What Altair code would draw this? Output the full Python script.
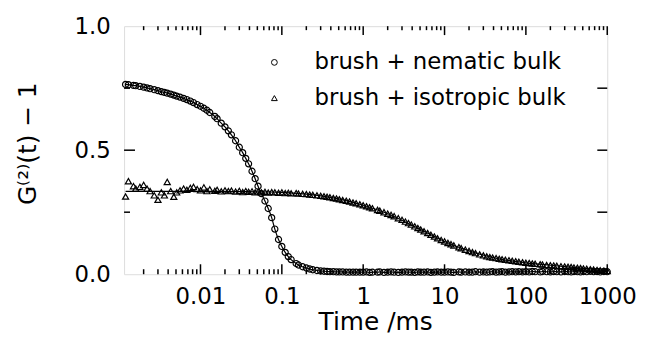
import altair as alt
import pandas as pd

# ---------------- data ----------------
time_ms = [
    0.0012, 0.0013, 0.0015, 0.0016, 0.0018, 0.0020, 0.0022, 0.0024, 0.0027, 0.0030, 0.0033,
    0.0036, 0.0039, 0.0043, 0.0047, 0.0051, 0.0056, 0.0062, 0.0068, 0.0075, 0.0082, 0.0091,
    0.010, 0.011, 0.012, 0.013, 0.015, 0.016, 0.018, 0.020, 0.022, 0.024, 0.027, 0.030,
    0.033, 0.036, 0.039, 0.043, 0.047, 0.051, 0.056, 0.062, 0.068, 0.075, 0.082, 0.091,
    0.10, 0.11, 0.12, 0.13, 0.15, 0.16, 0.18, 0.20, 0.22, 0.24, 0.27, 0.30,
    0.33, 0.36, 0.39, 0.43, 0.47, 0.51, 0.56, 0.62, 0.68, 0.75, 0.82, 0.91,
    1.0, 1.1, 1.2, 1.3, 1.5, 1.6, 1.8, 2.0, 2.2, 2.4, 2.7, 3.0,
    3.3, 3.6, 3.9, 4.3, 4.7, 5.1, 5.6, 6.2, 6.8, 7.5, 8.2, 9.1,
    10, 11, 12, 13, 15, 16, 18, 20, 22, 24, 27, 30,
    33, 36, 39, 43, 47, 51, 56, 62, 68, 75, 82, 91,
    100, 110, 120, 130, 150, 160, 180, 200, 220, 240, 270, 300,
    330, 360, 390, 430, 470, 510, 560, 620, 680, 750, 820, 910,
    1000,
]

nematic = [
    0.765, 0.764, 0.761, 0.760, 0.757, 0.754, 0.751, 0.748, 0.744, 0.740, 0.736,
    0.733, 0.730, 0.726, 0.722, 0.718, 0.714, 0.709, 0.704, 0.698, 0.692, 0.684,
    0.677, 0.669, 0.661, 0.652, 0.636, 0.627, 0.609, 0.594, 0.578, 0.562, 0.538, 0.512,
    0.490, 0.467, 0.445, 0.415, 0.385, 0.355, 0.325, 0.295, 0.265, 0.228, 0.182, 0.140,
    0.112, 0.088, 0.071, 0.059, 0.043, 0.037, 0.030, 0.025, 0.021, 0.018, 0.015, 0.013,
    0.012, 0.011, 0.010, 0.010, 0.009, 0.009, 0.009, 0.008, 0.008, 0.008, 0.008, 0.008,
    0.008, 0.009, 0.007, 0.008, 0.008, 0.009, 0.007, 0.008, 0.009, 0.008, 0.007, 0.008,
    0.009, 0.008, 0.008, 0.007, 0.009, 0.008, 0.008, 0.009, 0.007, 0.008, 0.009, 0.008,
    0.008, 0.009, 0.008, 0.007, 0.009, 0.008, 0.009, 0.008, 0.008, 0.010, 0.008, 0.009,
    0.008, 0.009, 0.010, 0.008, 0.009, 0.010, 0.008, 0.009, 0.010, 0.009, 0.010, 0.009,
    0.010, 0.009, 0.011, 0.010, 0.009, 0.011, 0.010, 0.009, 0.011, 0.010, 0.009, 0.011,
    0.010, 0.009, 0.011, 0.010, 0.009, 0.011, 0.010, 0.012, 0.010, 0.011, 0.009, 0.011,
    0.010,
]

isotropic = [
    0.313, 0.375, 0.355, 0.345, 0.352, 0.360, 0.345, 0.335, 0.318, 0.300, 0.330,
    0.318, 0.372, 0.335, 0.312, 0.330, 0.338, 0.345, 0.340, 0.348, 0.352, 0.343,
    0.338, 0.350, 0.335, 0.342, 0.336, 0.340, 0.334, 0.338, 0.335, 0.337, 0.333, 0.336,
    0.331, 0.335, 0.332, 0.334, 0.330, 0.333, 0.330, 0.332, 0.329, 0.331, 0.330, 0.328,
    0.330, 0.327, 0.328, 0.326, 0.327, 0.325, 0.324, 0.323, 0.321, 0.320, 0.318, 0.316,
    0.314, 0.312, 0.310, 0.307, 0.305, 0.302, 0.299, 0.296, 0.293, 0.289, 0.286, 0.282,
    0.278, 0.274, 0.270, 0.266, 0.259, 0.256, 0.250, 0.244, 0.239, 0.234, 0.226, 0.219,
    0.212, 0.206, 0.200, 0.193, 0.186, 0.180, 0.173, 0.166, 0.159, 0.152, 0.145, 0.138,
    0.132, 0.126, 0.121, 0.116, 0.109, 0.105, 0.099, 0.094, 0.089, 0.085, 0.080, 0.076,
    0.072, 0.069, 0.067, 0.065, 0.062, 0.060, 0.058, 0.056, 0.054, 0.052, 0.050, 0.048,
    0.046, 0.045, 0.043, 0.042, 0.040, 0.039, 0.037, 0.036, 0.035, 0.034, 0.032, 0.031,
    0.030, 0.029, 0.027, 0.026, 0.025, 0.023, 0.022, 0.020, 0.019, 0.017, 0.016, 0.014,
    0.013,
]

# smooth fit curve drawn through the isotropic data
iso_fit_t = [0.0012, 0.003, 0.01, 0.03, 0.1, 0.2, 0.5, 1, 2, 5, 10, 20, 50, 100, 200, 500, 1000]
iso_fit_v = [0.334, 0.334, 0.334, 0.333, 0.330, 0.323, 0.304, 0.278, 0.244, 0.181, 0.132,
             0.094, 0.060, 0.046, 0.036, 0.024, 0.013]

series_names = ["brush + nematic bulk", "brush + isotropic bulk"]

x_label_values = [0.01, 0.1, 1, 10, 100, 1000]
x_major_ticks = [0.01, 0.1, 1, 10, 100, 1000]
x_minor_ticks = [m * d for d in [0.001, 0.01, 0.1, 1, 10, 100] for m in range(2, 10)]
y_label_values = [0.0, 0.5, 1.0]
y_major_ticks = [0.5]
y_minor_ticks = [0.25, 0.75]

# ---------------- styling ----------------
W, H = 487, 250
FONT = "DejaVu Sans"
FS = 23
TFS = 25

data = pd.DataFrame({
    "t": time_ms * 2,
    "v": nematic + isotropic,
    "series": [series_names[0]] * len(time_ms) + [series_names[1]] * len(time_ms),
})
fit_iso = pd.DataFrame({"t": iso_fit_t, "v": iso_fit_v})
fit_nem = pd.DataFrame({"t": time_ms, "v": nematic})

xscale = alt.Scale(type="log", domain=[0.00115, 1000], nice=False)
yscale = alt.Scale(domain=[0, 1], nice=False, zero=False)

xaxis = alt.Axis(
    values=x_label_values, format="~g", title="Time /ms",
    ticks=False, tickSize=0, domain=False, grid=False,
    labelPadding=12, labelFont=FONT, labelFontSize=FS, labelColor="black",
    labelFlush=False, labelOverlap=False,
    titleFont=FONT, titleFontSize=TFS, titleFontWeight="normal", titleColor="black",
    titlePadding=1, titleX=253,
)
yaxis = alt.Axis(
    values=y_label_values, format=".1f", title="G⁽²⁾(t) − 1",
    ticks=False, tickSize=0, domain=False, grid=False,
    labelPadding=14, labelFont=FONT, labelFontSize=FS, labelColor="black",
    labelFlush=False, labelOverlap=False,
    titleFont=FONT, titleFontSize=TFS, titleFontWeight="normal", titleColor="black",
    titleX=-84, titleY=118,
)


def X(field="t"):
    return alt.X(f"{field}:Q", scale=xscale, axis=xaxis)


def Y(field="v"):
    return alt.Y(f"{field}:Q", scale=yscale, axis=yaxis)


# inward tick marks on all four sides
xmaj = pd.DataFrame({"t": x_major_ticks})
xmin = pd.DataFrame({"t": x_minor_ticks})
ymaj = pd.DataFrame({"v": y_major_ticks})
ymin = pd.DataFrame({"v": y_minor_ticks})

tick_style = dict(color="black", strokeWidth=1.5)
ticks = [
    alt.Chart(xmaj).mark_rule(**tick_style).encode(x=X(), y=alt.value(H), y2=alt.value(H - 10)),
    alt.Chart(xmin).mark_rule(**tick_style).encode(x=X(), y=alt.value(H), y2=alt.value(H - 5)),
    alt.Chart(xmaj).mark_rule(**tick_style).encode(x=X(), y=alt.value(0), y2=alt.value(9)),
    alt.Chart(xmin).mark_rule(**tick_style).encode(x=X(), y=alt.value(0), y2=alt.value(4)),
    alt.Chart(ymaj).mark_rule(**tick_style).encode(y=Y(), x=alt.value(0), x2=alt.value(11)),
    alt.Chart(ymin).mark_rule(**tick_style).encode(y=Y(), x=alt.value(0), x2=alt.value(6)),
    alt.Chart(ymaj).mark_rule(**tick_style).encode(y=Y(), x=alt.value(W), x2=alt.value(W - 10)),
    alt.Chart(ymin).mark_rule(**tick_style).encode(y=Y(), x=alt.value(W), x2=alt.value(W - 10)),
]

line_nem = alt.Chart(fit_nem).mark_line(color="black", strokeWidth=1.2, interpolate="monotone").encode(
    x=X(), y=Y())
line_iso = alt.Chart(fit_iso).mark_line(color="black", strokeWidth=1.2, interpolate="monotone").encode(
    x=X(), y=Y())

points = alt.Chart(data).mark_point(filled=False, color="black", strokeWidth=1.2, size=38, opacity=1).encode(
    x=X(), y=Y(),
    shape=alt.Shape(
        "series:N",
        scale=alt.Scale(domain=series_names, range=["circle", "triangle-up"]),
        legend=alt.Legend(
            orient="none", legendX=140, legendY=25, title=None,
            labelFont=FONT, labelFontSize=FS, labelColor="black", labelLimit=0,
            symbolStrokeColor="black", symbolFillColor="transparent",
            symbolStrokeWidth=1, symbolSize=34,
            labelOffset=29, rowPadding=12, padding=0,
        ),
    ),
)

chart = alt.layer(*ticks, line_nem, line_iso, points).properties(
    width=W, height=H,
    autosize=alt.AutoSizeParams(type="none"),
    padding={"left": 117, "top": 17, "right": 30, "bottom": 64},
).configure_view(stroke="black", strokeWidth=2).configure(background="white")

chart.save("out.html", embed_options={"renderer": "svg", "actions": False})
